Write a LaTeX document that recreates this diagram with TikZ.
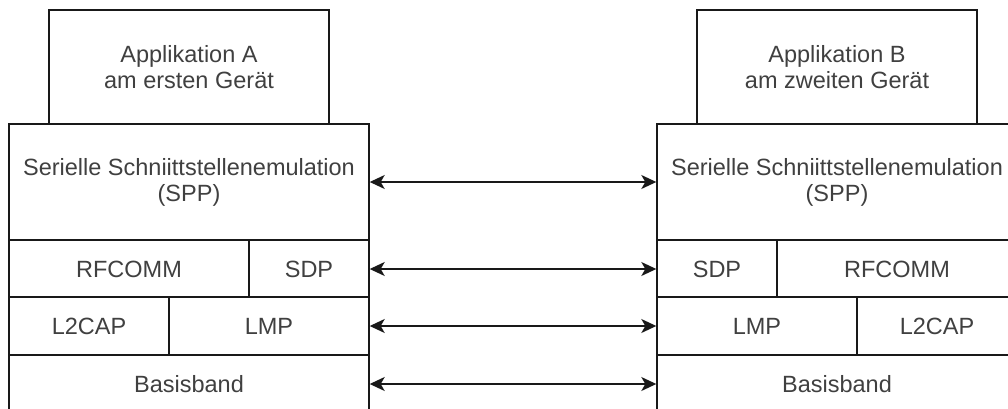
\documentclass[tikz,border=0pt]{standalone}
\usepackage{fontspec}
\setmainfont{Liberation Sans}
\usetikzlibrary{arrows.meta}

\begin{document}
\begin{tikzpicture}[x=1pt, y=-1pt,
    cell/.style={draw=black!90, line width=1.4pt, inner sep=0pt, align=center,
        text=black!75, font=\fontsize{23.5}{26}\selectfont},
    link/.style={{Stealth[length=15pt,width=14pt,inset=4pt]}-{Stealth[length=15pt,width=14pt,inset=4pt]},
        line width=1.5pt, draw=black!90}]
    \useasboundingbox (0,0) rectangle (1008,409);
    % erstes Geraet
    \node[cell, minimum width=280pt, minimum height=114pt] (appA) at (189,67) {Applikation A\\am ersten Gerät};
    \node[cell, minimum width=360pt, minimum height=116pt] (sppA) at (189,182) {Serielle Schniittstellenemulation\\(SPP)};
    \node[cell, minimum width=240pt, minimum height=57pt] (rfcA) at (129,269) {RFCOMM};
    \node[cell, minimum width=120pt, minimum height=57pt] (sdpA) at (309,269) {SDP};
    \node[cell, minimum width=160pt, minimum height=58pt] (l2cA) at (89,326) {L2CAP};
    \node[cell, minimum width=200pt, minimum height=58pt] (lmpA) at (269,326) {LMP};
    \node[cell, minimum width=360pt, minimum height=58pt] (bbA) at (189,384) {Basisband};
    % zweites Geraet
    \node[cell, minimum width=280pt, minimum height=114pt] (appB) at (837,67) {Applikation B\\am zweiten Gerät};
    \node[cell, minimum width=360pt, minimum height=116pt] (sppB) at (837,182) {Serielle Schniittstellenemulation\\(SPP)};
    \node[cell, minimum width=120pt, minimum height=57pt] (sdpB) at (717,269) {SDP};
    \node[cell, minimum width=240pt, minimum height=57pt] (rfcB) at (897,269) {RFCOMM};
    \node[cell, minimum width=200pt, minimum height=58pt] (lmpB) at (757,326) {LMP};
    \node[cell, minimum width=160pt, minimum height=58pt] (l2cB) at (937,326) {L2CAP};
    \node[cell, minimum width=360pt, minimum height=58pt] (bbB) at (837,384) {Basisband};
    % Verbindungen
    \foreach \a/\b in {sppA/sppB, sdpA/sdpB, lmpA/lmpB, bbA/bbB}
        \draw[link] (\a.east) -- (\b.west);
\end{tikzpicture}
\end{document}
